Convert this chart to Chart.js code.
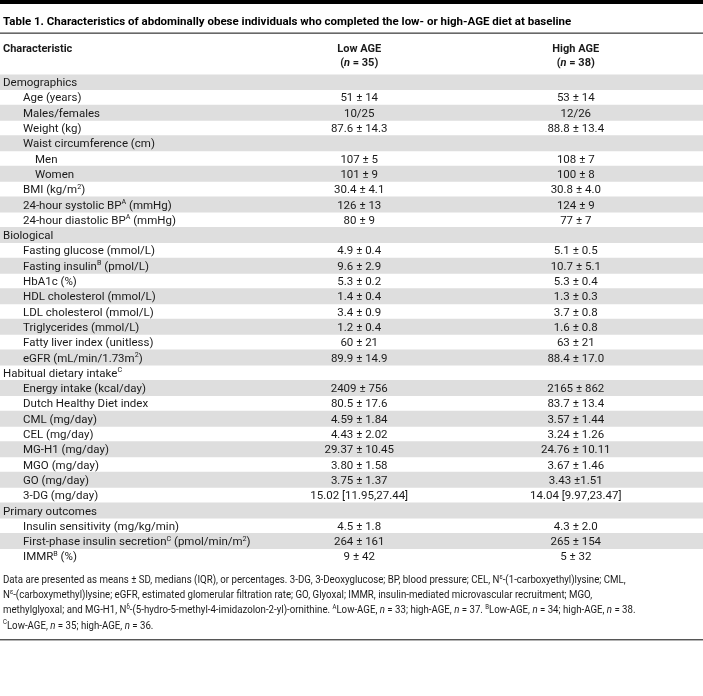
<!DOCTYPE html>
<html>
<head>
<meta charset="utf-8">
<script src="https://cdn.jsdelivr.net/npm/chart.js@4.4.1/dist/chart.umd.min.js"></script>
<style>
  html, body { margin: 0; padding: 0; background: #fff; }
  #wrap { position: relative; width: 703px; height: 696px; }
</style>
</head>
<body>
<div id="wrap"><canvas id="tbl"></canvas></div>
<script>
// ===== Table 1 drawn on a Chart.js canvas =====
// markup in strings: ^{x} = superscript, *x* = italic

const TITLE = 'Table 1. Characteristics of abdominally obese individuals who completed the low- or high-AGE diet at baseline';
const HEAD_LABEL = 'Characteristic';
const HEAD_LOW = ['Low AGE', '(*n* = 35)'];
const HEAD_HIGH = ['High AGE', '(*n* = 38)'];

const rowLabels = [
  'Demographics',
  'Age (years)',
  'Males/females',
  'Weight (kg)',
  'Waist circumference (cm)',
  'Men',
  'Women',
  'BMI (kg/m^{2})',
  '24-hour systolic BP^{A} (mmHg)',
  '24-hour diastolic BP^{A} (mmHg)',
  'Biological',
  'Fasting glucose (mmol/L)',
  'Fasting insulin^{B} (pmol/L)',
  'HbA1c (%)',
  'HDL cholesterol (mmol/L)',
  'LDL cholesterol (mmol/L)',
  'Triglycerides (mmol/L)',
  'Fatty liver index (unitless)',
  'eGFR (mL/min/1.73m^{2})',
  'Habitual dietary intake^{C}',
  'Energy intake (kcal/day)',
  'Dutch Healthy Diet index',
  'CML (mg/day)',
  'CEL (mg/day)',
  'MG-H1 (mg/day)',
  'MGO (mg/day)',
  'GO (mg/day)',
  '3-DG (mg/day)',
  'Primary outcomes',
  'Insulin sensitivity (mg/kg/min)',
  'First-phase insulin secretion^{C} (pmol/min/m^{2})',
  'IMMR^{B} (%)'
];

// 0 = section heading, 1 = item, 2 = sub item
const rowIndent = [0, 1, 1, 1, 1, 2, 2, 1, 1, 1, 0, 1, 1, 1, 1, 1, 1, 1, 1, 0, 1, 1, 1, 1, 1, 1, 1, 1, 0, 1, 1, 1];

const lowAge = [
  '', '51 ± 14', '10/25', '87.6 ± 14.3', '', '107 ± 5', '101 ± 9', '30.4 ± 4.1', '126 ± 13', '80 ± 9',
  '', '4.9 ± 0.4', '9.6 ± 2.9', '5.3 ± 0.2', '1.4 ± 0.4', '3.4 ± 0.9', '1.2 ± 0.4', '60 ± 21', '89.9 ± 14.9',
  '', '2409 ± 756', '80.5 ± 17.6', '4.59 ± 1.84', '4.43 ± 2.02', '29.37 ± 10.45', '3.80 ± 1.58', '3.75 ± 1.37', '15.02 [11.95,27.44]',
  '', '4.5 ± 1.8', '264 ± 161', '9 ± 42'
];

const highAge = [
  '', '53 ± 14', '12/26', '88.8 ± 13.4', '', '108 ± 7', '100 ± 8', '30.8 ± 4.0', '124 ± 9', '77 ± 7',
  '', '5.1 ± 0.5', '10.7 ± 5.1', '5.3 ± 0.4', '1.3 ± 0.3', '3.7 ± 0.8', '1.6 ± 0.8', '63 ± 21', '88.4 ± 17.0',
  '', '2165 ± 862', '83.7 ± 13.4', '3.57 ± 1.44', '3.24 ± 1.26', '24.76 ± 10.11', '3.67 ± 1.46', '3.43 ±1.51', '14.04 [9.97,23.47]',
  '', '4.3 ± 2.0', '265 ± 154', '5 ± 32'
];

const notes = [
  'Data are presented as means ± SD, medians (IQR), or percentages. 3-DG, 3-Deoxyglucose; BP, blood pressure; CEL, N^{ε}-(1-carboxyethyl)lysine; CML,',
  'N^{ε}-(carboxymethyl)lysine; eGFR, estimated glomerular filtration rate; GO, Glyoxal; IMMR, insulin-mediated microvascular recruitment; MGO,',
  'methylglyoxal; and MG-H1, N^{δ}-(5-hydro-5-methyl-4-imidazolon-2-yl)-ornithine. ^{A}Low-AGE, *n* = 33; high-AGE, *n* = 37. ^{B}Low-AGE, *n* = 34; high-AGE, *n* = 38.',
  '^{C}Low-AGE, *n* = 35; high-AGE, *n* = 36.'
];

const FONT = 'Roboto, "Noto Sans", sans-serif';
const TEXT = '#1a1a1a';
const STRIPE = '#dedede';
const ROW_H = 15.3;
const TOP = 74.4;
const COL_LOW = 0.511;   // column centres in x-scale units (0..1 = full width)
const COL_HIGH = 0.819;
const INDENT = [3, 23, 35];

function splitRich(text) {
  const out = [];
  text.split(/(\^\{[^}]*\}|\*[^*]+\*)/).forEach(s => {
    if (!s) return;
    if (s.startsWith('^{')) out.push({ t: s.slice(2, -1), sup: true });
    else if (s.length > 2 && s[0] === '*' && s.endsWith('*')) out.push({ t: s.slice(1, -1), it: true });
    else out.push({ t: s });
  });
  return out;
}

// sx < 1 squeezes the text horizontally (condensed look)
function drawRich(ctx, text, x, y, o) {
  const size = o.size || 11.5, weight = o.weight || 'normal', sx = o.sx || 1;
  const parts = splitRich(text);
  const fontOf = p => `${p.it ? 'italic ' : ''}${weight} ${p.sup ? size * 0.62 : size}px ${FONT}`;
  let w = 0;
  parts.forEach(p => { ctx.font = fontOf(p); p.w = ctx.measureText(p.t).width * sx; w += p.w; });
  let cx = o.align === 'center' ? x - w / 2 : x;
  ctx.fillStyle = o.color || TEXT;
  ctx.textAlign = 'left';
  ctx.textBaseline = 'alphabetic';
  const base = y + size * 0.36;
  parts.forEach(p => {
    ctx.font = fontOf(p);
    ctx.save();
    ctx.translate(cx, p.sup ? base - size * 0.4 : base);
    ctx.scale(sx, 1);
    ctx.fillText(p.t, 0, 0);
    ctx.restore();
    cx += p.w;
  });
}

function hRule(ctx, y, h, color, w) {
  ctx.fillStyle = color;
  ctx.fillRect(0, y, w, h);
}

const tablePlugin = {
  id: 'tableText',
  afterDatasetsDraw(chart) {
    const { ctx, scales: { x, y }, width } = chart;
    ctx.save();

    // top bar, title, rule
    hRule(ctx, 0, 4, '#000', width);
    drawRich(ctx, TITLE, 3, 20.5, { size: 11.5, weight: 'bold', color: '#000' });
    hRule(ctx, 32.5, 1.3, '#444', width);

    // header
    const lowX = x.getPixelForValue(COL_LOW), highX = x.getPixelForValue(COL_HIGH);
    drawRich(ctx, HEAD_LABEL, 3, 48.5, { size: 11, weight: 'bold' });
    drawRich(ctx, HEAD_LOW[0], lowX, 48.5, { size: 11, weight: 'bold', align: 'center' });
    drawRich(ctx, HEAD_LOW[1], lowX, 62.5, { size: 11, weight: 'bold', align: 'center' });
    drawRich(ctx, HEAD_HIGH[0], highX, 48.5, { size: 11, weight: 'bold', align: 'center' });
    drawRich(ctx, HEAD_HIGH[1], highX, 62.5, { size: 11, weight: 'bold', align: 'center' });

    // body cells
    rowLabels.forEach((lab, i) => {
      const py = y.getPixelForValue(i);
      drawRich(ctx, lab, INDENT[rowIndent[i]], py, { size: 11.5 });
      if (lowAge[i]) drawRich(ctx, lowAge[i], lowX, py, { size: 11.5, align: 'center' });
      if (highAge[i]) drawRich(ctx, highAge[i], highX, py, { size: 11.5, align: 'center' });
    });

    // footnotes and closing rule
    const bottom = chart.chartArea.bottom;
    notes.forEach((n, i) => drawRich(ctx, n, 3, bottom + 15 + i * 15.2, { size: 11, sx: 0.88 }));
    hRule(ctx, bottom + 15 + 3 * 15.2 + 14.5, 1.3, '#444', width);

    ctx.restore();
  }
};

new Chart(document.getElementById('tbl'), {
  type: 'bar',
  data: {
    labels: rowLabels,
    datasets: [{
      label: 'stripe',
      data: rowLabels.map((_, i) => (i % 2 === 0 ? 1 : null)),
      backgroundColor: STRIPE,
      borderWidth: 0,
      barPercentage: 1,
      categoryPercentage: 1
    }]
  },
  options: {
    indexAxis: 'y',
    responsive: true,
    maintainAspectRatio: false,
    animation: false,
    events: [],
    layout: { padding: { top: TOP, bottom: 696 - TOP - rowLabels.length * ROW_H, left: 0, right: 0 } },
    plugins: { legend: { display: false }, tooltip: { enabled: false } },
    scales: {
      x: { display: false, min: 0, max: 1 },
      y: { display: false }
    }
  },
  plugins: [tablePlugin]
});
</script>
</body>
</html>
